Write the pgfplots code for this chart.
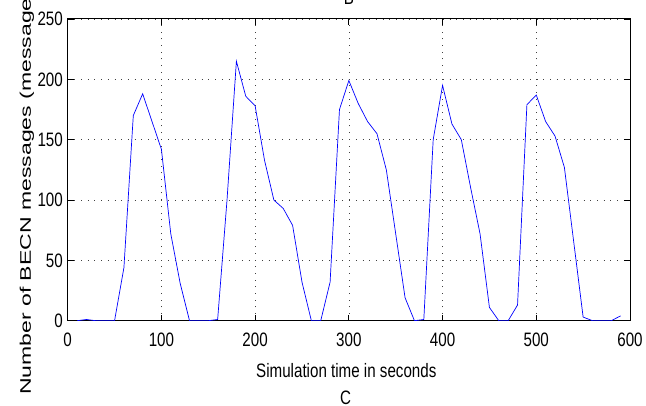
\documentclass[border=0pt]{standalone}
\usepackage{pgfplots}
\pgfplotsset{compat=1.18}
\usepackage{fontspec}
\setmainfont{Liberation Sans}[FakeStretch=0.78]
\newfontfamily\ylfont{Liberation Sans}[FakeStretch=1.5]
\newcommand\hfont{\fontsize{19.5}{20}\selectfont}
\begin{document}
\begin{tikzpicture}
\begin{axis}[
  name=main,
  at={(0,0)}, anchor=south west,
  scale only axis, width=562.3bp, height=301.7bp,
  xmin=0, xmax=600, ymin=0, ymax=250,
  xtick={0,100,...,600}, ytick={0,50,...,250},
  /pgf/number format/assume math mode=true,
  tick align=inside, major tick length=6bp,
  grid=major,
  major grid style={black!75, line width=0.7bp, dash pattern=on 0.9bp off 5.8bp},
  axis line style={line width=1bp},
  every tick/.style={black, line width=0.8bp},
  tick label style={font=\hfont, inner sep=0pt},
  xticklabel style={anchor=north, yshift=-12.3bp},
  yticklabel style={anchor=east, xshift=-4.7bp},
  title={B},
  every axis title/.style={at={(axis description cs:0.5,1)}, anchor=base, yshift=14bp, inner sep=0pt, font=\hfont},
  xlabel={Simulation time in seconds},
  every axis x label/.style={at={(axis description cs:0.4955,0)}, anchor=base, yshift=-56.8bp, inner sep=0pt, font=\hfont},
  ylabel={Number of BECN messages (messages/sec)},
  every axis y label/.style={at={(axis description cs:-0.0653,-0.2463)}, rotate=90, anchor=base west, inner sep=0pt, font=\ylfont\fontsize{15.4}{16}\selectfont},
]
\addplot[color={rgb,1:red,0;green,0;blue,1}, line width=0.7bp] table {
x y
10 0
20 1
30 0
40 0
50 0
60 44
70 170
80 188
90 165
100 142
110 72
120 31
130 0
140 0
150 0
160 1
170 100
180 215
190 186
200 178
210 133
220 100
230 93
240 79
250 32
260 0
270 0
280 32
290 175
300 199
310 180
320 165
330 155
340 125
350 72
360 19
370 0
380 1
390 150
400 195
410 163
420 150
430 110
440 72
450 11
460 0
470 0
480 13
490 179
500 187
510 165
520 153
530 127
540 65
550 3
560 0
570 0
580 0
590 4
};
\end{axis}
\node[anchor=base, inner sep=0pt, font=\hfont] at ([xshift=278bp,yshift=-83.3bp]main.south west) {C};
\pgfresetboundingbox
\useasboundingbox (-67.7bp,-85.3bp) rectangle (578.3bp,320.7bp);
\end{tikzpicture}
\end{document}
